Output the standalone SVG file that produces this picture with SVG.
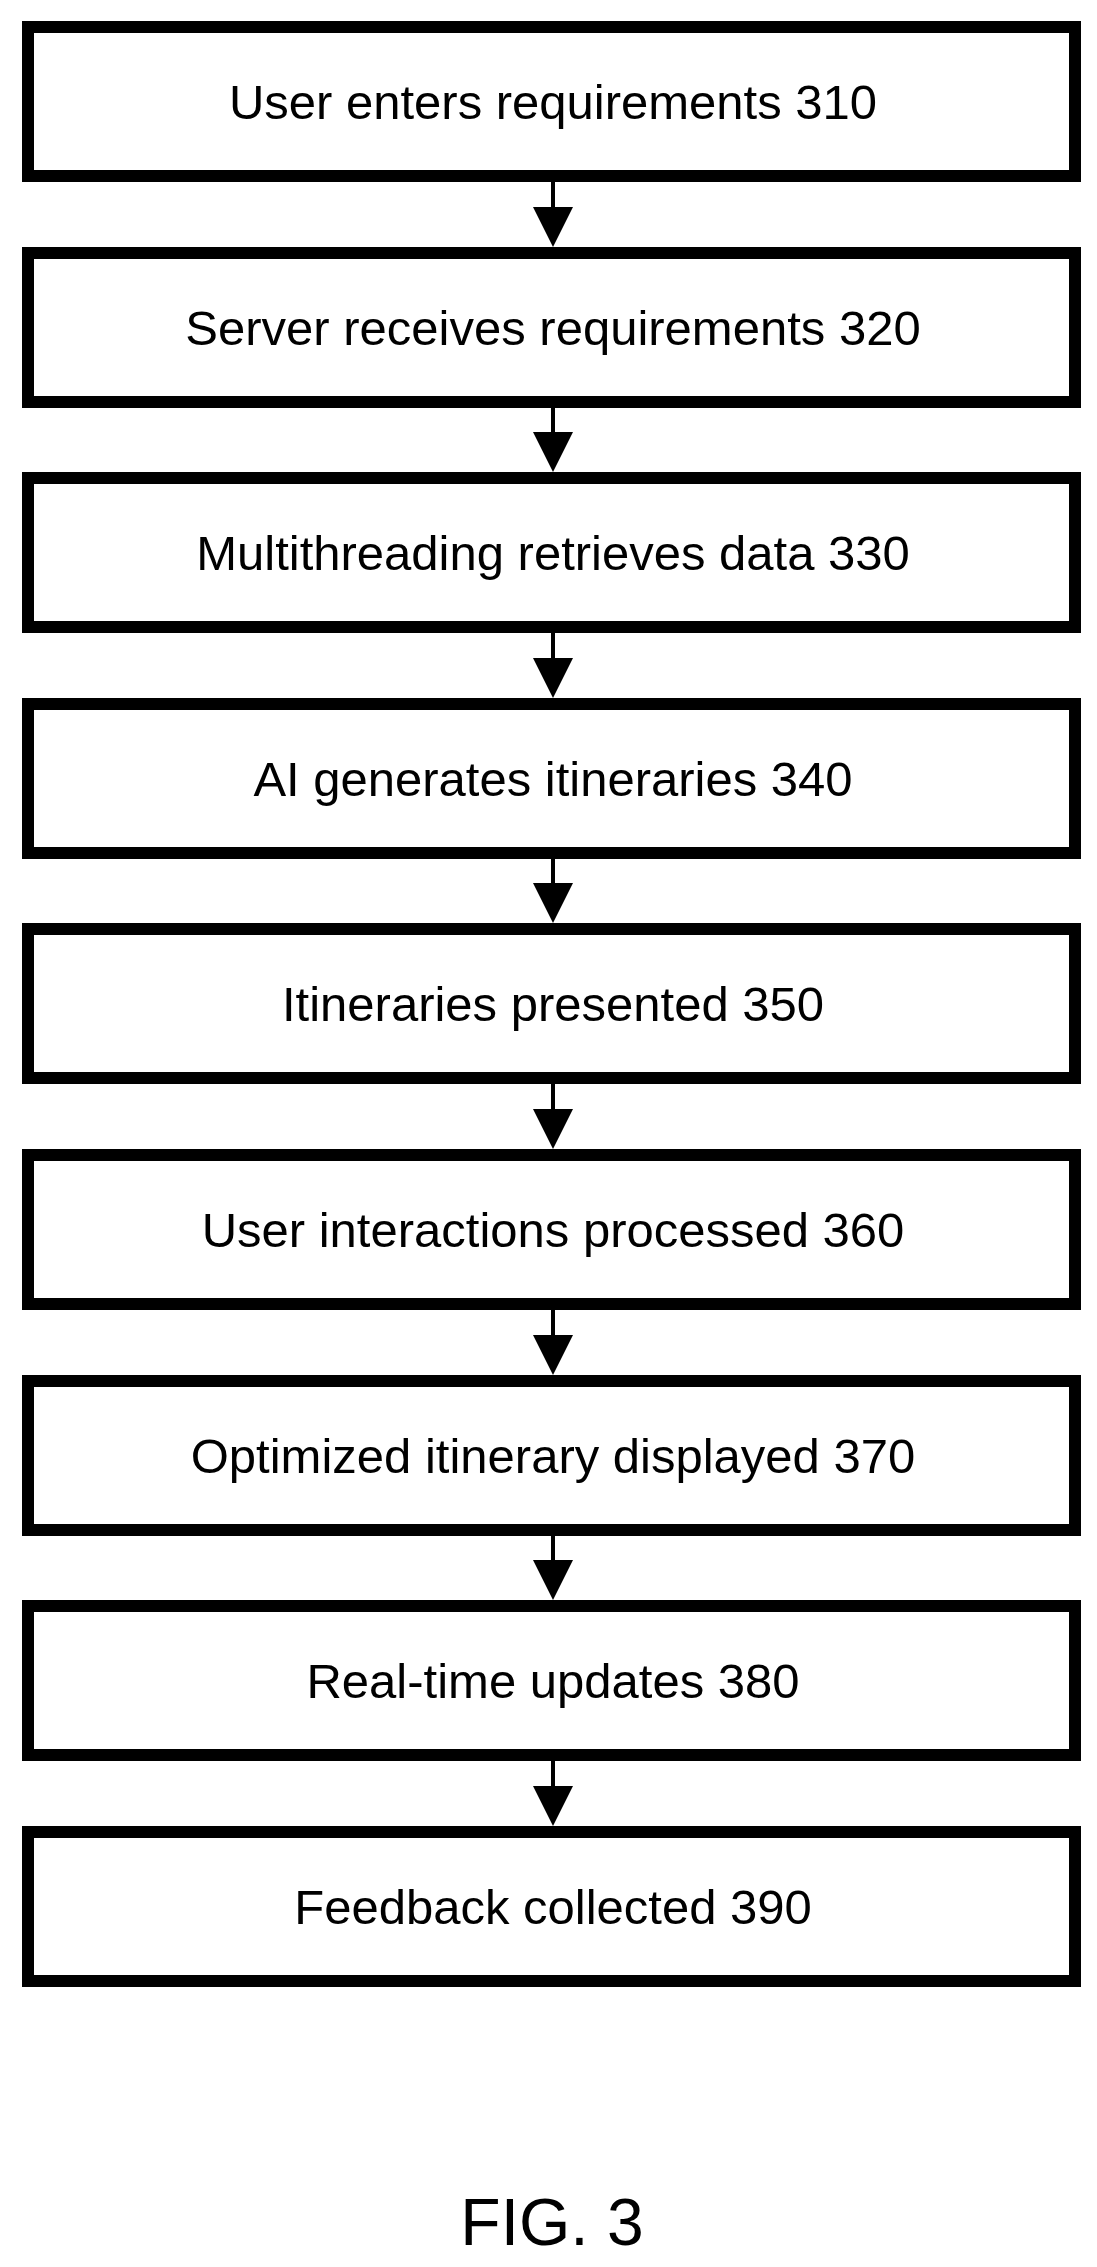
<svg xmlns="http://www.w3.org/2000/svg" width="1097" height="2267" viewBox="0 0 1097 2267">
<style>
.b{fill:#fff;stroke:#000;stroke-width:12}
.t{font-family:"Liberation Sans",Arial,sans-serif;font-size:49px;text-anchor:middle;fill:#000}
.c{stroke:#000;stroke-width:4;fill:none}
</style>
<rect width="1097" height="2267" fill="#fff"/>
<g id="connectors">
<line class="c" x1="553" y1="182" x2="553" y2="208"/><path d="M533,207 L573,207 L553,247 Z"/>
<line class="c" x1="553" y1="408" x2="553" y2="433"/><path d="M533,432 L573,432 L553,472 Z"/>
<line class="c" x1="553" y1="633" x2="553" y2="659"/><path d="M533,658 L573,658 L553,698 Z"/>
<line class="c" x1="553" y1="859" x2="553" y2="884"/><path d="M533,883 L573,883 L553,923 Z"/>
<line class="c" x1="553" y1="1084" x2="553" y2="1110"/><path d="M533,1109 L573,1109 L553,1149 Z"/>
<line class="c" x1="553" y1="1310" x2="553" y2="1336"/><path d="M533,1335 L573,1335 L553,1375 Z"/>
<line class="c" x1="553" y1="1536" x2="553" y2="1561"/><path d="M533,1560 L573,1560 L553,1600 Z"/>
<line class="c" x1="553" y1="1761" x2="553" y2="1787"/><path d="M533,1786 L573,1786 L553,1826 Z"/>
</g>
<g id="n310"><rect class="b" x="28" y="27" width="1047" height="149"/><text class="t" x="553" y="119">User enters requirements 310</text></g>
<g id="n320"><rect class="b" x="28" y="253" width="1047" height="149"/><text class="t" x="553" y="345">Server receives requirements 320</text></g>
<g id="n330"><rect class="b" x="28" y="478" width="1047" height="149"/><text class="t" x="553" y="570">Multithreading retrieves data 330</text></g>
<g id="n340"><rect class="b" x="28" y="704" width="1047" height="149"/><text class="t" x="553" y="796">AI generates itineraries 340</text></g>
<g id="n350"><rect class="b" x="28" y="929" width="1047" height="149"/><text class="t" x="553" y="1021">Itineraries presented 350</text></g>
<g id="n360"><rect class="b" x="28" y="1155" width="1047" height="149"/><text class="t" x="553" y="1247">User interactions processed 360</text></g>
<g id="n370"><rect class="b" x="28" y="1381" width="1047" height="149"/><text class="t" x="553" y="1473">Optimized itinerary displayed 370</text></g>
<g id="n380"><rect class="b" x="28" y="1606" width="1047" height="149"/><text class="t" x="553" y="1698">Real-time updates 380</text></g>
<g id="n390"><rect class="b" x="28" y="1832" width="1047" height="149"/><text class="t" x="553" y="1924">Feedback collected 390</text></g>
<text x="552" y="2245" style="font-family:'Liberation Sans',Arial,sans-serif;font-size:66px;text-anchor:middle">FIG. 3</text>
</svg>
